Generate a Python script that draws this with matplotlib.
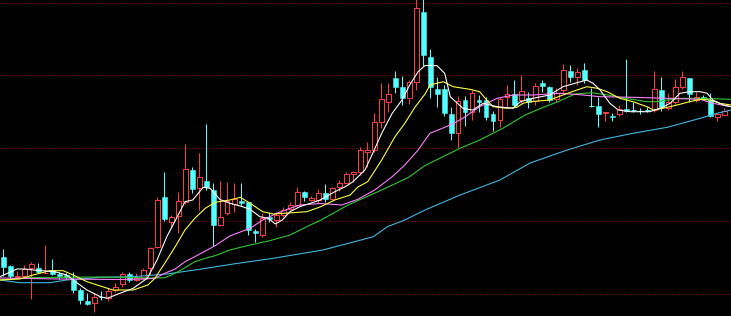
import matplotlib
matplotlib.use("Agg")
import matplotlib.pyplot as plt
from matplotlib.patches import Rectangle

# ---- candle data (arbitrary price units) ----
opens = [59, 50, 39, 40, 48, 48, 42.5, 46, 42, 41,
         36, 26, 15, 12.7, 20, 18.3, 26, 31.7, 41.7, 36,
         38.3, 47.7, 68.7, 119.3, 93.7, 100.3, 113.7, 146, 127.7, 135,
         126, 91, 102.7, 112, 115, 114.3, 85, 81, 99, 96,
         101, 106.7, 111.5, 123.8, 116.5, 116.5, 123.5, 116.8, 128.7, 133.3,
         142.3, 144, 164.3, 166, 194.3, 214.3, 237.7, 228.7, 217.7, 234.3,
         304.3, 259.3, 226.7, 226.7, 202, 183, 216, 204.3, 216, 216,
         201.8, 196.3, 219, 222.3, 216, 217.7, 215, 233.3, 229.3, 216.7,
         226, 245, 239.3, 246, 210.3, 210, 202.7, 200, 202, 206.7,
         206.5, 206, 206, 206, 226, 208, 214, 229.3, 238, 215.7,
         219.3, 216.3, 198.7, 201.5]
highs = [67, 51, 45, 51, 54, 53, 71, 57.3, 44.3, 43,
         44, 28.3, 23, 23, 25, 27.7, 32.7, 44.3, 44.3, 43,
         48.3, 69.3, 119.3, 144.3, 101, 123.7, 171.7, 149.3, 162.7, 191.7,
         132.7, 135.3, 134.3, 133, 133, 114.3, 87.5, 103.5, 104, 104.3,
         109.3, 114.3, 128.7, 125, 120, 126.7, 132, 128.7, 136, 144.3,
         145.3, 169.3, 174.3, 202.7, 232.7, 232.7, 245, 240, 236, 320,
         320, 266.7, 239, 231, 209, 220.5, 220, 226, 221, 219.3,
         205, 219.3, 231, 236.3, 241, 224.3, 232.7, 236, 230, 227.7,
         252, 251, 247.7, 253.3, 228, 219.3, 204.3, 202.7, 211, 256.7,
         214.3, 207.7, 209, 244.7, 239.3, 222.7, 236.7, 245, 238, 224.3,
         221, 223, 203.3, 207.7]
lows = [40, 37, 38, 39, 17, 43, 42, 41, 37, 37,
        23.3, 12, 11, 4.3, 16, 15, 24.3, 29.3, 34.3, 35,
        37, 41, 67.7, 95, 89.3, 82.7, 111.7, 122.7, 106, 126,
        70, 90, 101, 104.3, 110.5, 81, 74.3, 79.3, 94, 89,
        99.3, 106, 109.7, 115, 115, 113.3, 114.3, 116, 125.3, 132.7,
        134.3, 141, 149.3, 164.3, 187.7, 204.3, 222.7, 211, 211.7, 226,
        250, 217.7, 209, 200, 176, 167.7, 190, 195.7, 204.3, 196,
        185.3, 188.7, 209.3, 209, 212.7, 207.7, 211, 224.3, 214.3, 214.3,
        222.7, 234.3, 231, 232.7, 209, 189.3, 195.3, 195.3, 200, 204.3,
        204.3, 202, 204, 204, 205.5, 205.7, 212, 227, 214.3, 214,
        216, 199.5, 195.3, 201]
closes = [49, 40, 40.5, 47, 52, 44, 43.5, 42, 40, 39,
          26, 16, 12, 19.3, 19, 25, 29.3, 41.7, 36, 38,
          46, 67.7, 116, 97, 99.3, 115, 147, 127, 138.7, 129.3,
          91, 99.3, 115, 116.7, 113.5, 86.5, 82.7, 97.7, 97.5, 101,
          106.5, 111, 124.3, 118.7, 118.3, 123.3, 117.5, 127.8, 132.7, 142,
          144, 166, 166, 193.7, 216.7, 221.7, 228.7, 218.3, 233.7, 307.7,
          261, 229.3, 222, 203.3, 183.3, 215.5, 204.5, 223, 214.5, 198.7,
          195.3, 217.2, 222, 211, 225.3, 214.3, 230, 230, 216, 223.3,
          246, 239.3, 243.7, 236, 209.3, 202, 204.3, 198.7, 206.7, 205.3,
          205.5, 205, 205.2, 226.7, 209.3, 214.3, 229.5, 238.7, 222.3, 219.3,
          216.7, 200.5, 201.8, 204.6]

# ---- moving averages (position in bars, value) ----
ma5_x = [-0.43, 2, 3.1, 4.3, 7.4, 9.1, 10.6, 12, 13.9, 14.9, 16.7, 18.6, 20.6, 22, 23.4,
         24.9, 26, 27.1, 28.6, 29.6, 31, 32.4, 33.9, 35.3, 36.7, 37.9, 38.9, 39.9, 41,
         42.4, 43.9, 45.3, 47.4, 48.9, 50, 51.7, 52.9, 54.1, 55.6, 57, 58.1, 59.3, 60.3,
         62, 63.1, 63.9, 65.7, 67.1, 68.6, 70.6, 72.9, 73.9, 75.7, 78.1, 80, 82, 83.4,
         84.3, 85.3, 86.7, 87.9, 89.6, 92.4, 93.9, 95.3, 96.7, 98.1, 99.6, 100.6, 101.4,
         102.9, 104]
ma5_y = [39.3, 47, 47, 46, 44.3, 41, 33, 26, 19.3, 17.7, 22.7, 27.7, 37.7, 56, 79.3,
         99.3, 114.3, 116, 128.7, 127.7, 116.5, 112.7, 110, 106.7, 99.3, 97.7, 92, 96, 104.3,
         109.3, 112.7, 116, 124.3, 129.3, 134.3, 146, 164, 182.7, 202.7, 216, 231, 244.3, 250.5,
         250.3, 242.7, 219.3, 207.7, 206, 212.7, 209.3, 207.7, 214.3, 217.7, 221, 229.3, 233.3, 236,
         232.7, 226, 212.7, 206, 204.3, 204.3, 207.7, 212.7, 222.7, 224.3, 224.3, 222.7, 216,
         211, 209.3]

ma10_x = [-0.43, 2.4, 4.3, 6.7, 8.6, 10, 12, 13.9, 15.7, 18.6, 20.7, 21.7, 23.1, 24.6, 26,
          27.4, 28.9, 30.3, 32.4, 33.9, 35.3, 37.1, 38.6, 41.4, 43.4, 45.3, 47.4, 49.6, 50.7,
          52.1, 54.1, 56, 57.4, 58.9, 60.3, 61, 62.9, 64.3, 66.7, 68.1, 69.1, 70, 72, 73.4,
          74.3, 75.3, 78.1, 80, 82, 83.4, 84.9, 86.3, 88.1, 90, 92, 92.9, 94.3, 96.3, 98.1,
          99.6, 101, 102.4, 104]
ma10_y = [36, 37, 41, 45.3, 45.3, 41, 34.3, 30, 26, 26, 31, 37.7, 52.7, 69.3, 86,
          97.7, 107.7, 113.7, 116, 118.7, 112.7, 104.3, 102, 103.3, 104.3, 109, 116, 121, 129,
          134.3, 156, 179.3, 192.7, 209.3, 222, 231, 234.3, 229.3, 226.7, 224.3, 216, 209.3, 207.7, 208.7,
          212.7, 214.3, 216, 221, 226, 229.3, 227.7, 224.3, 217.7, 214.3, 209.3, 206, 207.7, 211, 214.3,
          216.7, 216, 212.7, 211]

ma20_x = [-0.43, 8.1, 16.7, 20.3, 21.7, 23.1, 24.6, 26, 27.4, 28.9, 30.3, 32.4, 35.3, 37.1,
          39.1, 41, 42.4, 45.3, 48.4, 50.7, 53.1, 55.6, 57.4, 59.3, 60.3, 61, 63.9, 65.7,
          68.1, 70.6, 72.9, 75.7, 79.6, 82.9, 85.3, 90, 94.9, 99.6, 101.4, 104]
ma20_y = [38, 37, 36.5, 37, 37.7, 42.7, 47, 54.3, 59.3, 65, 70.3, 80, 87.7, 96,
          102.7, 107.7, 111, 112.5, 111, 116.7, 126, 139.3, 151, 166, 176, 182.7, 191, 197.7,
          209.3, 217.7, 221, 221, 222.7, 221, 219.3, 218.7, 217.7, 216.7, 212.7, 209.3]

ma30_x = [-0.43, 3.9, 13.9, 21.7, 23.1, 24.6, 26, 27.4, 28.9, 30.3, 32.4, 35.3, 38.1, 41,
          43.9, 45.3, 49.3, 54.1, 57.9, 60.3, 65.3, 68.1, 71.4, 74.6, 77.4, 79.3, 81.7,
          84.1, 86.4, 88.9, 92, 93.4, 94.9, 97.1, 99.6, 104]
ma30_y = [36, 38.5, 39, 38, 38.3, 42.7, 48.3, 54.3, 57.7, 60.3, 66, 71, 75.3, 81,
          91, 95.5, 111, 126, 138.5, 150.5, 167.7, 176, 187.7, 201, 209.3, 214.3, 222,
          223.3, 221, 217.7, 214.3, 214.3, 216, 217.7, 217.7, 216.7]

ma60_x = [-0.43, 2.4, 6.7, 9.1, 13.9, 18.6, 23.4, 28.1, 32.9, 38.6, 45.7, 50.6, 52.9, 54.9,
          57.4, 60.3, 65.3, 71, 75.3, 80.6, 85.3, 90, 94.9, 99.6, 102, 104]
ma60_y = [36, 33.3, 33.3, 36, 38.7, 39.3, 42, 46.7, 52, 57.7, 66, 75, 79.3, 89.3,
          96, 106, 121, 136, 153, 166, 176, 182.7, 188.7, 197.7, 202.7, 206]

grid_levels = [22, 95, 168, 241, 313.3]

# ---- style ----
UP = "#ff3c3c"
DOWN = "#54ffff"
MA_COLORS = ["#ffffff", "#ffff40", "#ff80ff", "#30c830", "#40b8e0"]
GRID = "#9c1414"
PX = 0.72  # one pixel in points at dpi 100

fig = plt.figure(figsize=(7.31, 3.16), dpi=100, facecolor="black")
ax = fig.add_axes([0, 0, 1, 1])
ax.set_facecolor("black")
n = len(opens)
ax.set_xlim(-3 / 7, 104.0)
ax.set_ylim(0, 316)
ax.axis("off")

for g in grid_levels:
    ax.axhline(g, color=GRID, lw=PX, linestyle=(0, (1, 2)), zorder=0)

bw = 5 / 7
for i in range(n):
    o, h, l, c = opens[i], highs[i], lows[i], closes[i]
    top, bot = max(o, c), min(o, c)
    if c > o:
        col = UP
        ax.vlines(i, top, h, color=col, lw=PX, zorder=2)
        ax.vlines(i, l, bot, color=col, lw=PX, zorder=2)
        if top - bot < 1.2:
            ax.hlines((top + bot) / 2, i - bw / 2, i + bw / 2, color=col, lw=PX, zorder=2)
        else:
            ax.add_patch(Rectangle((i - bw / 2, bot), bw, top - bot, facecolor="black",
                                   edgecolor=col, lw=PX, zorder=2))
    else:
        col = DOWN
        ax.vlines(i, l, h, color=col, lw=PX, zorder=2)
        if top - bot < 1.2:
            ax.hlines((top + bot) / 2, i - bw / 2, i + bw / 2, color=col, lw=PX, zorder=2)
        else:
            ax.add_patch(Rectangle((i - bw / 2, bot), bw, top - bot, facecolor=col,
                                   edgecolor=col, lw=PX * 0.5, zorder=2))

for (xs, ys), colr in zip([(ma60_x, ma60_y), (ma30_x, ma30_y), (ma20_x, ma20_y),
                           (ma10_x, ma10_y), (ma5_x, ma5_y)],
                          [MA_COLORS[4], MA_COLORS[3], MA_COLORS[2], MA_COLORS[1], MA_COLORS[0]]):
    ax.plot(xs, ys, color=colr, lw=PX * 1.1, zorder=3)

fig.savefig("out.png", dpi=100, facecolor="black")
